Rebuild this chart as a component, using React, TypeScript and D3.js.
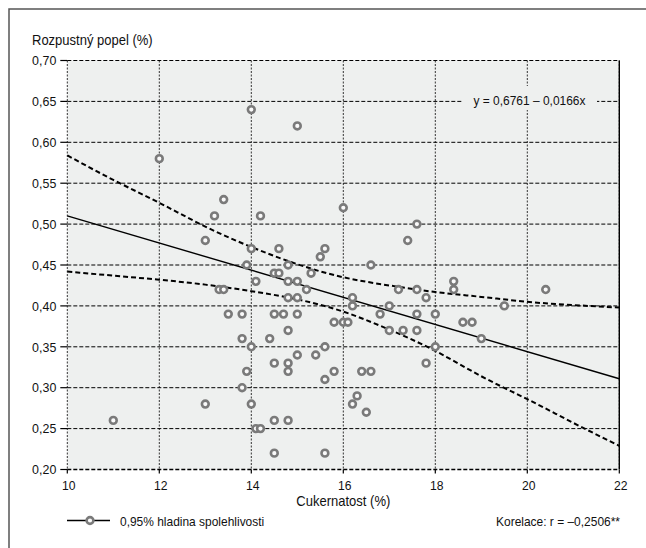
import React from "react";
import * as d3 from "d3";

const xTicks = [10, 12, 14, 16, 18, 20, 22];
const yTicks = [0.2, 0.25, 0.3, 0.35, 0.4, 0.45, 0.5, 0.55, 0.6, 0.65, 0.7];

// scatter data: cukernatost (x), rozpustný popel (y)
const sugar = [
  11.0, 12.0, 13.0, 13.0, 13.2, 13.3, 13.4, 13.4, 13.5, 13.8, 13.8, 13.8, 13.9, 13.9,
  14.0, 14.0, 14.0, 14.0, 14.1, 14.1, 14.2, 14.2, 14.4, 14.5, 14.5, 14.5, 14.5, 14.5,
  14.6, 14.6, 14.7, 14.8, 14.8, 14.8, 14.8, 14.8, 14.8, 14.8, 15.0, 15.0, 15.0, 15.0,
  15.0, 15.2, 15.3, 15.4, 15.5, 15.6, 15.6, 15.6, 15.6, 15.8, 15.8, 16.0, 16.0, 16.1,
  16.2, 16.2, 16.2, 16.3, 16.4, 16.5, 16.6, 16.6, 16.8, 17.0, 17.0, 17.2, 17.3, 17.4,
  17.6, 17.6, 17.6, 17.6, 17.8, 17.8, 18.0, 18.0, 18.4, 18.4, 18.6, 18.8, 19.0, 19.5,
  20.4,
];
const ash = [
  0.26, 0.58, 0.48, 0.28, 0.51, 0.42, 0.42, 0.53, 0.39, 0.39, 0.36, 0.30, 0.45, 0.32,
  0.64, 0.47, 0.35, 0.28, 0.43, 0.25, 0.25, 0.51, 0.36, 0.44, 0.39, 0.33, 0.26, 0.22,
  0.47, 0.44, 0.39, 0.45, 0.43, 0.41, 0.37, 0.33, 0.32, 0.26, 0.62, 0.43, 0.41, 0.39,
  0.34, 0.42, 0.44, 0.34, 0.46, 0.47, 0.35, 0.31, 0.22, 0.38, 0.32, 0.52, 0.38, 0.38,
  0.41, 0.40, 0.28, 0.29, 0.32, 0.27, 0.45, 0.32, 0.39, 0.40, 0.37, 0.42, 0.37, 0.48,
  0.50, 0.42, 0.39, 0.37, 0.41, 0.33, 0.39, 0.35, 0.43, 0.42, 0.38, 0.38, 0.36, 0.40,
  0.42,
];

// regression line endpoints (y = 0.6761 - 0.0166x)
const regX = [10, 22];
const regY = [0.5101, 0.3109];

// confidence band
const bandX = [10, 11, 12, 13, 14, 15, 16, 17, 18, 19, 20, 21, 22];
const bandUpper = [0.584, 0.554, 0.526, 0.497, 0.472, 0.451, 0.435, 0.425, 0.417, 0.411, 0.405, 0.401, 0.398];
const bandLower = [0.442, 0.437, 0.432, 0.426, 0.418, 0.408, 0.393, 0.371, 0.345, 0.314, 0.286, 0.257, 0.229];

const yTitle = "Rozpustný popel (%)";
const xTitle = "Cukernatost (%)";
const equation = "y = 0,6761 – 0,0166x";
const legendLabel = "0,95% hladina spolehlivosti";
const correlation = "Korelace: r = –0,2506**";

const FONT = "'Liberation Sans', Arial, sans-serif";

function T(props: {
  x: number;
  y: number;
  size: number;
  anchor?: "start" | "middle" | "end";
  sx?: number;
  children: React.ReactNode;
}) {
  const sx = props.sx ?? 0.9;
  return (
    <text
      transform={`translate(${props.x},${props.y}) scale(${sx},1)`}
      textAnchor={props.anchor || "start"}
      fontSize={props.size}
      fill="#111"
    >
      {props.children}
    </text>
  );
}

export default function App() {
  const W = 646, H = 548;
  const x = d3.scaleLinear().domain([10, 22]).range([67.3, 619.3]);
  const y = d3.scaleLinear().domain([0.2, 0.7]).range([469.5, 60.5]);
  const fmtY = (v: number) => d3.format(".2f")(v).replace(".", ",");

  const line = d3.line<[number, number]>().x((d) => x(d[0])).y((d) => y(d[1]));
  const curve = d3
    .line<[number, number]>()
    .x((d) => x(d[0]))
    .y((d) => y(d[1]))
    .curve(d3.curveNatural);

  const regPts: [number, number][] = regX.map((v, i) => [v, regY[i]]);
  const upPts: [number, number][] = bandX.map((v, i) => [v, bandUpper[i]]);
  const loPts: [number, number][] = bandX.map((v, i) => [v, bandLower[i]]);

  const x0 = x(10), x1 = x(22), y0 = y(0.2), y1 = y(0.7);

  return (
    <svg
      width={W}
      height={H}
      style={{ position: "absolute", left: 0, top: 0, background: "#fff" }}
      fontFamily={FONT}
    >
      <rect x={9} y={9} width={700} height={600} fill="#fff" stroke="#555" strokeWidth={1.5} />
      <rect x={x0} y={y1} width={x1 - x0} height={y0 - y1} fill="#eef0ef" />

      {/* vertical grid */}
      {xTicks.map((t) => (
        <line key={"vx" + t} x1={x(t)} x2={x(t)} y1={y1} y2={y0} stroke="#333" strokeWidth={1} strokeDasharray="2,1.5" />
      ))}
      {/* horizontal grid */}
      {yTicks.map((t) => (
        <line key={"hy" + t} x1={x0} x2={x1} y1={y(t)} y2={y(t)} stroke="#000" strokeWidth={t === 0.2 ? 1.6 : 1} strokeDasharray="4,2" />
      ))}
      <line x1={x1} x2={x1} y1={y1} y2={y0} stroke="#000" strokeWidth={1.4} />

      {/* ticks */}
      {yTicks.map((t) => (
        <g key={"ty" + t}>
          <line x1={x0 - 7} x2={x0} y1={y(t)} y2={y(t)} stroke="#000" strokeWidth={1.2} />
          <T x={x0 - 11} y={y(t) + 4.7} size={13.5} anchor="end" sx={0.92}>
            {fmtY(t)}
          </T>
        </g>
      ))}
      {xTicks.map((t) => (
        <g key={"tx" + t}>
          <line x1={x(t)} x2={x(t)} y1={y0} y2={y0 + 4} stroke="#000" strokeWidth={1.2} />
          <T x={x(t) + 1.5} y={y0 + 20.5} size={13.5} anchor="middle" sx={0.9}>
            {t}
          </T>
        </g>
      ))}

      {/* titles */}
      <T x={32} y={45} size={14} sx={0.93}>{yTitle}</T>
      <T x={(x0 + x1) / 2} y={506} size={14} anchor="middle" sx={0.93}>{xTitle}</T>

      {/* equation label */}
      <rect x={462} y={86} width={135} height={24} fill="#eef0ef" />
      <T x={529.5} y={105} size={13} anchor="middle" sx={0.92}>{equation}</T>

      {/* regression and bands */}
      <path d={line(regPts) || ""} fill="none" stroke="#000" strokeWidth={1.4} />
      <path d={curve(upPts) || ""} fill="none" stroke="#000" strokeWidth={2} strokeDasharray="5,3" />
      <path d={curve(loPts) || ""} fill="none" stroke="#000" strokeWidth={2} strokeDasharray="5,3" />

      {/* points */}
      {sugar.map((s, i) => (
        <circle key={"p" + i} cx={x(s)} cy={y(ash[i])} r={3.4} fill="#fafafa" stroke="#7a7a7a" strokeWidth={2.6} />
      ))}

      {/* legend */}
      <line x1={67} x2={110} y1={520.5} y2={520.5} stroke="#000" strokeWidth={1.3} />
      <circle cx={90} cy={520.5} r={3.4} fill="#fafafa" stroke="#7a7a7a" strokeWidth={2.6} />
      <T x={120} y={525.5} size={13} sx={0.92}>{legendLabel}</T>
      <T x={620} y={525.5} size={13} anchor="end" sx={0.92}>{correlation}</T>
    </svg>
  );
}
